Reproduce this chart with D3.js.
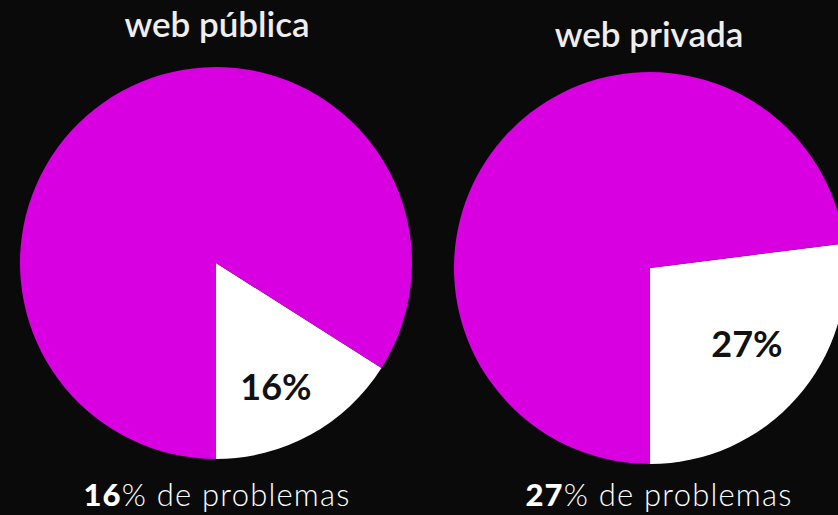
<!DOCTYPE html>
<html>
<head>
<meta charset="utf-8">
<script src="https://cdn.jsdelivr.net/npm/d3@7"></script>
<style>
  body { margin: 0; background: #0a0a0a; }
</style>
</head>
<body>
<script>
var w = 838;
var h = 515;

// Data for the two pies
var titles = ["web pública", "web privada"];
var problemShare = [16, 27];
var categories = ["problemas", "sin problemas"];
var colors = ["#ffffff", "#d800e0"];

var centers = [[216, 263], [650, 268]];
var titlePos = [[217, 37], [649, 47]];
var labelPos = [[276, 400], [747, 357]];
var captionX = [217, 659];
var radius = 196;

var svg = d3.select("body")
    .append("svg")
    .attr("width", w)
    .attr("height", h)
    .style("background", "#0a0a0a");

var color = d3.scaleOrdinal().domain(categories).range(colors);

var arc = d3.arc().innerRadius(0).outerRadius(radius);

problemShare.forEach(function(p, i) {
    var values = [
        { cat: "problemas", value: p },
        { cat: "sin problemas", value: 100 - p }
    ];
    // white slice ends at 6 o'clock
    var start = Math.PI - (p / 100) * 2 * Math.PI;
    var pie = d3.pie()
        .sort(null)
        .value(function(d) { return d.value; })
        .startAngle(start)
        .endAngle(start + 2 * Math.PI);

    var g = svg.append("g")
        .attr("transform", "translate(" + centers[i][0] + "," + centers[i][1] + ")");

    g.selectAll("path")
        .data(pie(values))
        .enter()
        .append("path")
        .attr("d", arc)
        .attr("fill", function(d) { return color(d.data.cat); });

    // title
    svg.append("text")
        .attr("x", titlePos[i][0])
        .attr("y", titlePos[i][1])
        .attr("text-anchor", "middle")
        .attr("fill", "#eeeeee")
        .style("font-family", "Lato, sans-serif")
        .style("font-weight", "600")
        .style("font-size", "35px")
        .text(titles[i]);

    // slice label
    svg.append("text")
        .attr("x", labelPos[i][0])
        .attr("y", labelPos[i][1])
        .attr("text-anchor", "middle")
        .attr("fill", "#111111")
        .style("font-family", "Lato, sans-serif")
        .style("font-weight", "bold")
        .style("font-size", "36px")
        .text(p + "%");

    // bottom caption
    var cap = svg.append("text")
        .attr("x", captionX[i])
        .attr("y", 506)
        .attr("text-anchor", "middle")
        .attr("fill", "#ffffff")
        .style("font-family", "Lato, sans-serif")
        .style("font-weight", "300")
        .style("font-size", "31px")
        .style("letter-spacing", "1.2px");
    cap.append("tspan").style("font-weight", "900").text(p);
    cap.append("tspan").text("% de problemas");
});
</script>
</body>
</html>
